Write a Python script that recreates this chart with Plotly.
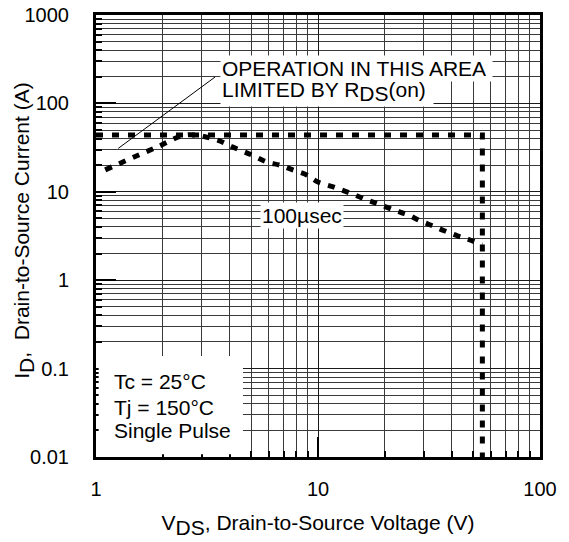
import plotly.graph_objects as go

# --- data ---
limit_v = [1.0, 55.0, 55.0]
limit_i = [44.0, 44.0, 0.01]

curve_v = [1.1, 1.88, 2.57, 3.5, 4.14, 5.05, 5.9, 6.74, 7.7, 8.9, 10.0, 11.8, 13.9,
           16.6, 19.2, 22.4, 25.4, 28.8, 33.0, 37.3, 42.7, 48.4, 54.8]
curve_i = [17.7, 32.0, 44.0, 38.5, 32.0, 26.0, 21.7, 20.0, 17.7, 15.5, 12.9, 11.3, 9.7,
           8.1, 7.1, 6.1, 5.5, 4.7, 4.1, 3.6, 3.16, 2.85, 2.5]

leader_v = [1.26, 3.44]
leader_i = [31.0, 199.0]

x_major = [1, 10, 100]
x_labels = ["1", "10", "100"]
y_major = [0.01, 0.1, 1, 10, 100, 1000]
y_labels = ["0.01", "0.1", "1", "10", "100", "1000"]

def minors(decades):
    out = []
    for d in decades:
        for k in range(2, 10):
            out.append(k * d)
    return out

x_minor = minors([1, 10])
y_minor = minors([0.01, 0.1, 1, 10, 100])

FONT = "Liberation Sans, Arial, sans-serif"

fig = go.Figure()
fig.add_trace(go.Scatter(x=leader_v, y=leader_i, mode="lines",
                         line=dict(color="black", width=1), hoverinfo="skip"))
fig.add_trace(go.Scatter(x=limit_v, y=limit_i, mode="lines",
                         line=dict(color="black", width=5, dash="7px,9px"), hoverinfo="skip"))
fig.add_trace(go.Scatter(x=curve_v, y=curve_i, mode="lines", line_shape="spline",
                         line=dict(color="black", width=5, dash="7px,8px"), hoverinfo="skip"))

axis_common = dict(
    type="log", showline=True, linecolor="black", linewidth=3, mirror=True,
    showgrid=True, gridcolor="#1a1a1a", gridwidth=1,
    ticks="inside", ticklen=20, tickwidth=2, tickcolor="black",
    tickfont=dict(family=FONT, size=20, color="black"),
    zeroline=False, automargin=False, ticklabeloverflow="allow",
)

fig.update_xaxes(**axis_common, range=[0, 2], tickvals=x_major, ticktext=x_labels,
                 ticklabelstandoff=12,
                 minor=dict(tickvals=x_minor, showgrid=True, gridcolor="#3a3a3a", gridwidth=1,
                            ticks="inside", ticklen=6, tickcolor="black"),
                 title=dict(text="V<sub><span style='font-size:21px'>DS</span></sub>, Drain-to-Source Voltage (V)",
                            font=dict(family=FONT, size=21, color="black"), standoff=17))
fig.update_yaxes(**axis_common, range=[-2, 3], tickvals=y_major, ticktext=y_labels,
                 ticklabelstandoff=20,
                 minor=dict(tickvals=y_minor, showgrid=True, gridcolor="#3a3a3a", gridwidth=1,
                            ticks="inside", ticklen=6, tickcolor="black"))

# y-axis title placed as rotated text
fig.add_annotation(text="I<sub><span style='font-size:21px'>D</span></sub>,  Drain-to-Source Current (A)",
                   xref="paper", yref="paper", x=-0.162, y=0.512, textangle=-90,
                   xanchor="center", yanchor="middle", showarrow=False,
                   font=dict(family=FONT, size=21, color="black"))

# white box behind the conditions text
fig.add_shape(type="rect", xref="paper", yref="paper", x0=0.006, x1=0.331, y0=0.006, y1=0.2285,
              fillcolor="white", line=dict(width=0), layer="above")

ann_font = dict(family=FONT, size=21, color="black")
def note(text, x, y):
    fig.add_annotation(text=text, xref="paper", yref="paper", x=x, y=y,
                       xanchor="left", yanchor="middle", showarrow=False,
                       font=ann_font, bgcolor="white", borderpad=1)

note("OPERATION IN THIS AREA ", 0.279, 0.880)
note("LIMITED BY R<sub><span style='font-size:21px'>DS</span></sub>(on) ", 0.279, 0.828)
note("100µsec", 0.370, 0.5475)
for txt, yy in [("Tc = 25°C", 0.170), ("Tj = 150°C", 0.113), ("Single Pulse", 0.061)]:
    fig.add_annotation(text=txt, xref="paper", yref="paper", x=0.035, y=yy,
                       xanchor="left", yanchor="middle", showarrow=False, font=ann_font)

# page body adds an 8px offset, so margins are shifted to land the plot where the reference has it
fig.update_layout(width=569, height=542, margin=dict(l=88, r=37, t=7, b=93, autoexpand=False),
                  plot_bgcolor="white", paper_bgcolor="white", showlegend=False)

fig.write_html("out.html")
